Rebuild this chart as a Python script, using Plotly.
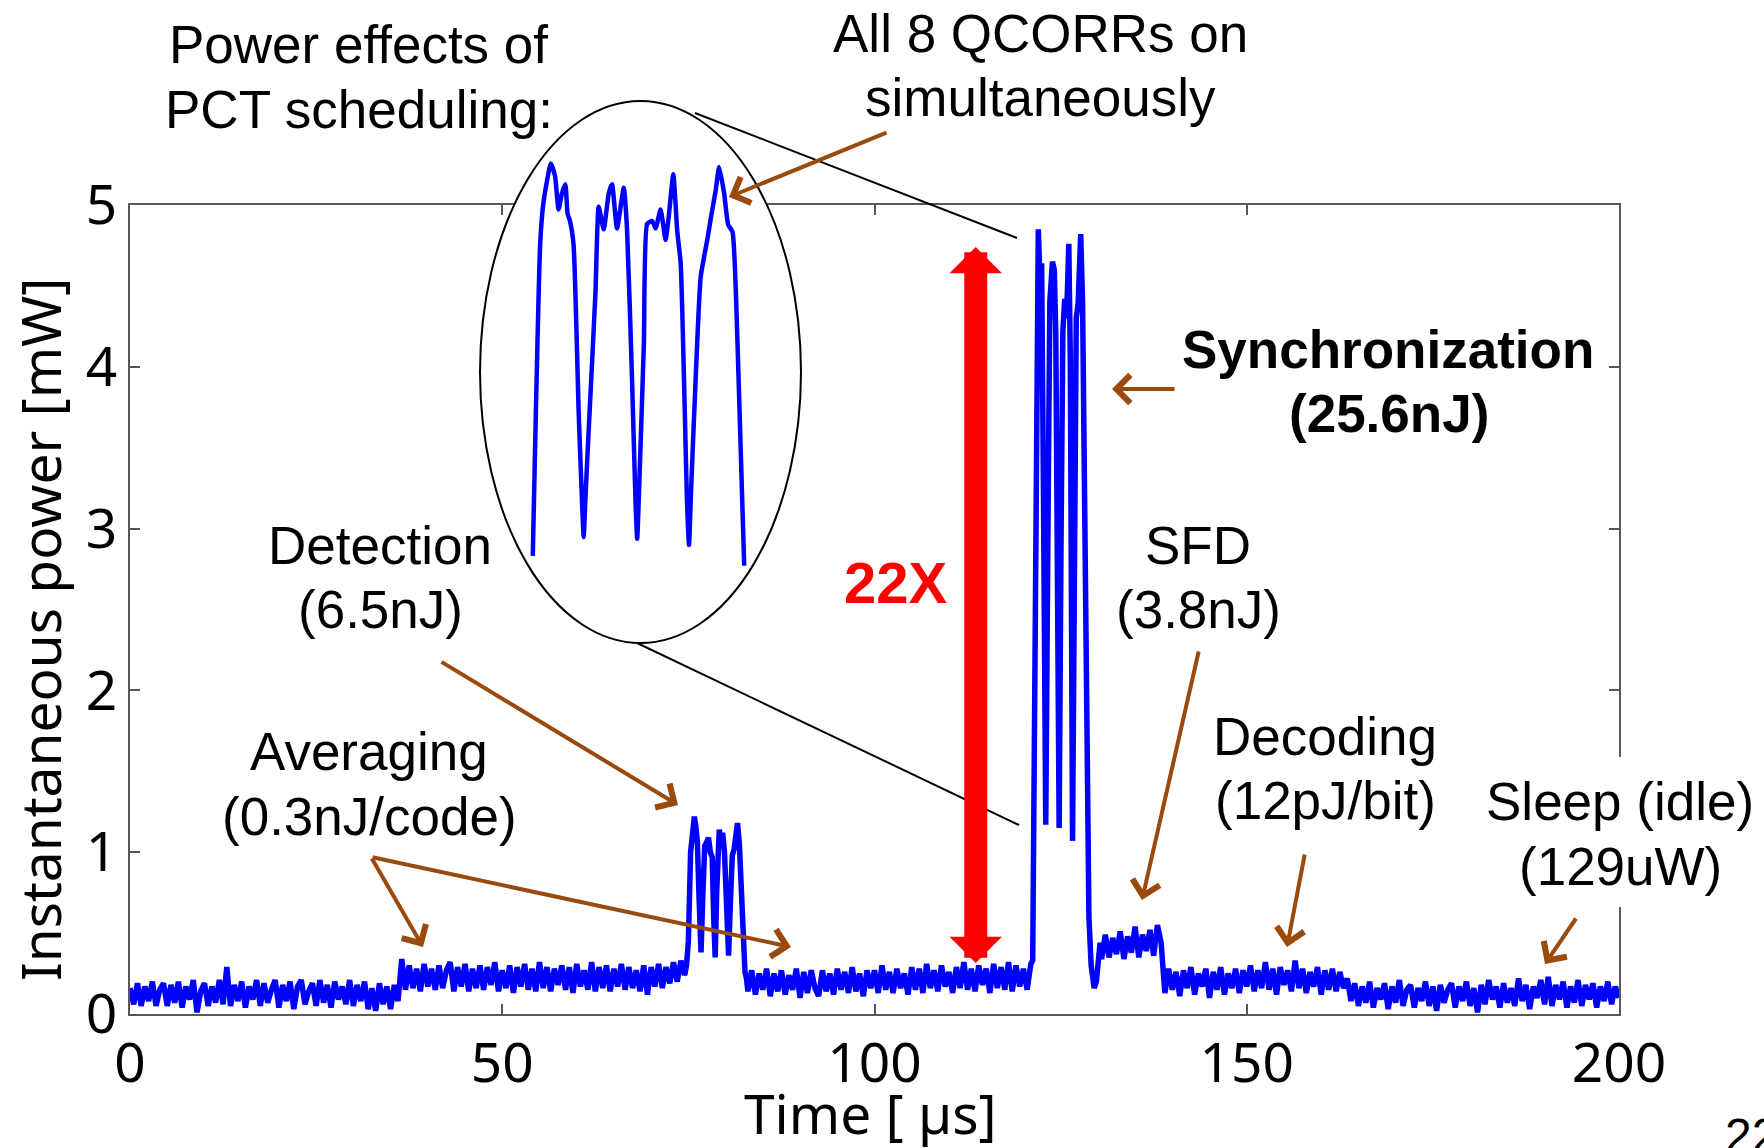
import numpy as np
import plotly.graph_objects as go

W, H = 1764, 1148

# ------------------------------------------------------------------ data
SAMPLE_STEP_US = 0.5

# idle / pre-averaging noise floor, 0 .. 36 us
idle_start_us = 0.0
idle_p = [0.16, 0.06, 0.19, 0.05, 0.17, 0.08, 0.20, 0.05, 0.15, 0.19,
          0.05, 0.18, 0.07, 0.20, 0.04, 0.17, 0.09, 0.21, 0.01, 0.14,
          0.19, 0.05, 0.17, 0.07, 0.21, 0.06, 0.29, 0.05, 0.18, 0.08,
          0.20, 0.04, 0.17, 0.09, 0.21, 0.05, 0.19, 0.07, 0.15, 0.21,
          0.04, 0.18, 0.08, 0.20, 0.03, 0.17, 0.21, 0.06, 0.14, 0.19,
          0.05, 0.21, 0.07, 0.18, 0.04, 0.20, 0.09, 0.17, 0.06, 0.21,
          0.05, 0.18, 0.08, 0.20, 0.03, 0.16, 0.02, 0.19, 0.06, 0.17,
          0.03, 0.18, 0.08]

# averaging, 36.5 .. 74.5 us
avg_start_us = 36.5
avg_p = [0.34, 0.15, 0.30, 0.16, 0.28, 0.14, 0.31, 0.17, 0.28, 0.15,
         0.30, 0.16, 0.27, 0.32, 0.14, 0.29, 0.17, 0.31, 0.14, 0.28,
         0.16, 0.30, 0.15, 0.29, 0.18, 0.32, 0.14, 0.27, 0.16, 0.30,
         0.13, 0.29, 0.17, 0.31, 0.15, 0.28, 0.14, 0.32, 0.16, 0.29,
         0.14, 0.28, 0.18, 0.30, 0.15, 0.29, 0.13, 0.31, 0.17, 0.27,
         0.15, 0.32, 0.14, 0.29, 0.16, 0.30, 0.14, 0.28, 0.17, 0.31,
         0.15, 0.29, 0.16, 0.27, 0.14, 0.30, 0.12, 0.29, 0.17, 0.31,
         0.16, 0.29, 0.19, 0.32, 0.20, 0.33, 0.24]

# detection burst
detect_t = [74.75, 75.0, 75.3, 75.55, 75.8, 76.0, 76.2, 76.45, 76.7, 76.95,
            77.2, 77.45, 77.7, 77.95, 78.2, 78.4, 78.6, 78.8, 79.0, 79.15,
            79.4, 79.6, 79.85, 80.1, 80.4, 80.65, 80.9, 81.15, 81.4, 81.6,
            81.85, 82.1, 82.35, 82.6, 82.8]
detect_p = [0.30, 0.45, 1.00, 1.15, 1.22, 1.16, 1.07, 0.70, 0.38, 0.75,
            1.04, 1.06, 1.09, 1.00, 0.97, 0.60, 0.35, 0.75, 1.10, 1.14,
            1.06, 1.12, 1.00, 0.65, 0.36, 0.70, 0.98, 1.02, 1.14, 1.18,
            1.05, 0.80, 0.40, 0.26, 0.22]

# averaging after detection, 83 .. 121 us
post_start_us = 83.0
post_p = [0.14, 0.27, 0.12, 0.25, 0.15, 0.28, 0.11, 0.25, 0.14, 0.27,
          0.12, 0.24, 0.15, 0.28, 0.10, 0.26, 0.13, 0.27, 0.16, 0.11,
          0.27, 0.14, 0.25, 0.12, 0.28, 0.15, 0.26, 0.13, 0.29, 0.14,
          0.25, 0.11, 0.27, 0.16, 0.27, 0.13, 0.30, 0.15, 0.26, 0.13,
          0.28, 0.16, 0.25, 0.12, 0.29, 0.15, 0.28, 0.13, 0.31, 0.16,
          0.27, 0.14, 0.30, 0.17, 0.26, 0.13, 0.29, 0.16, 0.32, 0.15,
          0.28, 0.14, 0.30, 0.18, 0.28, 0.13, 0.31, 0.16, 0.29, 0.15,
          0.32, 0.14, 0.30, 0.17, 0.28, 0.15, 0.31]

# synchronization burst (all 8 QCORRs on)
sync_t = [121.25, 121.5, 121.75, 122.0, 122.3, 122.45, 122.7, 123.0, 123.3, 123.55,
          123.9, 124.15, 124.35, 124.55, 124.8, 125.05, 125.3, 125.55, 125.8, 126.1,
          126.3, 126.6, 126.85, 127.1, 127.35, 127.7, 127.95, 128.2, 128.5, 128.8,
          129.1, 129.5, 129.8, 130.1, 130.3]
sync_p = [0.33, 2.00, 4.30, 4.85, 4.45, 4.64, 3.20, 1.17, 3.00, 4.40,
          4.65, 4.60, 4.20, 3.00, 1.15, 2.90, 4.22, 4.42, 4.30, 4.76,
          4.06, 1.07, 3.00, 4.30, 4.39, 4.82, 4.39, 3.40, 1.60, 0.60,
          0.30, 0.16, 0.20, 0.40, 0.44]

# SFD plateau, 130.5 .. 138.5 us
sfd_start_us = 130.5
sfd_p = [0.34, 0.49, 0.35, 0.47, 0.37, 0.51, 0.34, 0.48, 0.38, 0.54,
         0.35, 0.49, 0.39, 0.52, 0.36, 0.55, 0.44]

# decoding, 139 .. 163.5 us
decode_start_us = 139.0
decode_p = [0.13, 0.28, 0.15, 0.26, 0.11, 0.27, 0.16, 0.29, 0.12, 0.25,
            0.17, 0.28, 0.10, 0.26, 0.15, 0.29, 0.12, 0.25, 0.16, 0.28,
            0.13, 0.27, 0.17, 0.30, 0.14, 0.27, 0.16, 0.32, 0.15, 0.28,
            0.12, 0.29, 0.18, 0.27, 0.14, 0.33, 0.16, 0.28, 0.13, 0.26,
            0.17, 0.29, 0.12, 0.27, 0.15, 0.28, 0.14, 0.26, 0.16, 0.22]

# sleep (idle), 164 .. 200 us
sleep_start_us = 164.0
sleep_p = [0.08, 0.19, 0.05, 0.17, 0.07, 0.20, 0.04, 0.16, 0.09, 0.19,
           0.03, 0.17, 0.07, 0.21, 0.05, 0.15, 0.18, 0.04, 0.16, 0.08,
           0.20, 0.05, 0.17, 0.02, 0.18, 0.07, 0.15, 0.19, 0.04, 0.17,
           0.08, 0.20, 0.05, 0.16, 0.01, 0.18, 0.06, 0.21, 0.09, 0.17,
           0.04, 0.19, 0.07, 0.16, 0.05, 0.22, 0.08, 0.18, 0.03, 0.17,
           0.10, 0.21, 0.06, 0.23, 0.05, 0.18, 0.09, 0.20, 0.04, 0.17,
           0.07, 0.21, 0.05, 0.18, 0.09, 0.19, 0.04, 0.17, 0.08, 0.20,
           0.06, 0.17, 0.10]

# magnified view of the 4 correlator humps (inset in the ellipse)
inset_t = [0.08, 0.82, 1.15, 1.89, 2.30, 2.66, 3.00, 3.33, 3.56, 3.80,
           4.16, 4.67, 5.00, 5.17, 5.35, 5.67, 6.34, 6.67, 7.17, 7.68,
           8.00, 8.50, 9.18, 9.50, 10.00, 10.35, 10.52, 10.70, 11.19, 11.52,
           12.02, 12.36, 12.86, 13.36, 13.70, 14.13, 14.53, 14.87, 15.50, 15.70,
           15.90, 16.37, 16.87, 17.54, 17.88, 18.38, 18.71, 19.21, 19.62, 20.05,
           20.55, 21.22]
inset_p = [0.49, 3.96, 4.42, 4.85, 4.71, 4.34, 4.52, 4.62, 4.29, 4.21,
           3.94, 2.08, 1.10, 0.70, 1.15, 1.89, 3.40, 4.37, 4.12, 4.52,
           4.62, 4.13, 4.58, 4.13, 2.47, 1.10, 0.68, 1.20, 2.86, 4.18,
           4.21, 4.13, 4.34, 4.00, 4.29, 4.73, 4.09, 3.74, 1.10, 0.61,
           1.20, 2.47, 3.59, 4.01, 4.24, 4.56, 4.81, 4.52, 4.17, 4.09,
           2.86, 0.38]

x_ticks = [0, 50, 100, 150, 200]
y_ticks = [0, 1, 2, 3, 4, 5]


def seg_time(start, values):
    return list(start + SAMPLE_STEP_US * np.arange(len(values)))


time_us = (seg_time(idle_start_us, idle_p) + seg_time(avg_start_us, avg_p) + detect_t
           + seg_time(post_start_us, post_p) + sync_t + seg_time(sfd_start_us, sfd_p)
           + seg_time(decode_start_us, decode_p) + seg_time(sleep_start_us, sleep_p))
power_mw = idle_p + avg_p + detect_p + post_p + sync_p + sfd_p + decode_p + sleep_p

# ------------------------------------------------------------------ styling
BLUE = "#0000FF"
BROWN = "#9A4A0C"
RED = "#FF0000"
AXC = "#585858"
TXT_FONT = "Liberation Sans, Arial, sans-serif"
AX_FONT = "Noto Sans, Open Sans, sans-serif"

# plot-area box in pixels
PL, PR, PT, PB = 130, 1619, 205, 1014

# inset axes: pixel box and mapping
IN_L, IN_R, IN_T, IN_B = 460, 840, 60, 660
IN_X0, IN_XS = 532, 10.0     # px of t=0, px per unit
IN_Y0, IN_YS = 600, 90.0     # px of p=0, px per unit


def fx(px):
    return px / W


def fy(py):
    return 1 - py / H


def ix(px):
    return (px - IN_X0) / IN_XS


def iy(py):
    return (IN_Y0 - py) / IN_YS


fig = go.Figure()
fig.add_trace(go.Scatter(x=time_us, y=power_mw, mode="lines",
                         line=dict(color=BLUE, width=5.5), showlegend=False,
                         hoverinfo="skip"))
fig.add_trace(go.Scatter(x=inset_t, y=inset_p, mode="lines", xaxis="x2", yaxis="y2",
                         line=dict(color=BLUE, width=4.5, shape="spline", smoothing=0.5),
                         showlegend=False, hoverinfo="skip"))

annotations = []


def label(text, x, y, size=53, color="black", bold=False):
    if bold:
        text = "<b>" + text + "</b>"
    annotations.append(dict(text=text, x=fx(x), y=fy(y), xref="paper", yref="paper",
                            showarrow=False, xanchor="center", yanchor="middle",
                            font=dict(family=TXT_FONT, size=size, color=color)))


def arrow(head, tail):
    annotations.append(dict(text="", x=fx(head[0]), y=fy(head[1]), xref="paper", yref="paper",
                            ax=tail[0] - head[0], ay=tail[1] - head[1],
                            axref="pixel", ayref="pixel", showarrow=True,
                            arrowhead=4, arrowsize=1.35, arrowwidth=4,
                            arrowcolor=BROWN, standoff=0))


label("Power effects of", 358, 45)
label("PCT scheduling:", 359, 109)
label("All 8 QCORRs on", 1040, 34)
label("simultaneously", 1040, 98)
label("Synchronization", 1388, 349, bold=True)
label("(25.6nJ)", 1389, 413, bold=True)
label("22X", 896, 582, size=58, color=RED, bold=True)
label("SFD", 1198, 545)
label("(3.8nJ)", 1198, 609)
label("Detection", 380, 545)
label("(6.5nJ)", 380, 609)
label("Averaging", 369, 752)
label("(0.3nJ/code)", 369, 816)
label("Decoding", 1325, 736)
label("(12pJ/bit)", 1325, 800)
label("Sleep (idle)", 1620, 801)
label("(129uW)", 1620, 866)

arrow((729, 197), (888, 132))
arrow((1112, 389), (1176, 389))
arrow((1142, 900), (1199, 650))
arrow((678, 805), (440, 661))
arrow((423, 947), (371, 857))
arrow((791, 947), (371, 857))
arrow((1287, 947), (1305, 853))
arrow((1545, 964), (1577, 917))

# 22X double arrow (in data coordinates)
annotations.append(dict(text="", x=113.6, y=0.315, xref="x", yref="y",
                        ax=113.6, ay=4.75, axref="x", ayref="y", showarrow=True,
                        arrowside="end+start", arrowhead=1, startarrowhead=1,
                        arrowsize=0.38, startarrowsize=0.38, arrowwidth=23,
                        arrowcolor=RED, standoff=0, startstandoff=0))

# axis titles and page number
annotations.append(dict(text="Time [ \u00b5s]", x=fx(870), y=fy(1112), xref="paper", yref="paper",
                        showarrow=False, xanchor="center", yanchor="middle",
                        font=dict(family=AX_FONT, size=55, color="black")))
annotations.append(dict(text="Instantaneous power [mW]", x=fx(39), y=fy(630), xref="paper",
                        yref="paper", showarrow=False, textangle=-90, xanchor="center",
                        yanchor="middle", font=dict(family=AX_FONT, size=55, color="black")))
annotations.append(dict(text="22", x=fx(1723), y=fy(1107), xref="paper", yref="paper",
                        showarrow=False, xanchor="left", yanchor="top",
                        font=dict(family=TXT_FONT, size=48, color="black")))

shapes = [
    # ellipse around the magnified view (drawn under the inset trace)
    dict(type="circle", xref="x2", yref="y2", layer="below",
         x0=ix(480), x1=ix(801), y0=iy(643), y1=iy(101),
         line=dict(color="black", width=2), fillcolor="white"),
    # connector lines to the synchronization burst
    dict(type="line", xref="paper", yref="paper", layer="above",
         x0=fx(695), y0=fy(113), x1=fx(1017), y1=fy(238),
         line=dict(color="black", width=2)),
    dict(type="line", xref="paper", yref="paper", layer="above",
         x0=fx(637), y0=fy(643), x1=fx(1019), y1=fy(825),
         line=dict(color="black", width=2)),
    # white patch behind the "Sleep (idle)" label, hiding the right axis line
    dict(type="rect", xref="paper", yref="paper", layer="above",
         x0=fx(1606), x1=fx(1634), y0=fy(907), y1=fy(757),
         line=dict(width=0), fillcolor="white"),
]

axis_common = dict(showline=True, linecolor=AXC, linewidth=1.5, mirror="ticks",
                   ticks="inside", ticklen=10, tickwidth=1.5, tickcolor=AXC,
                   showgrid=False, zeroline=False,
                   tickfont=dict(family=AX_FONT, size=55, color="black"))

fig.update_layout(
    width=W, height=H, autosize=False,
    margin=dict(l=0, r=0, t=0, b=0, autoexpand=False),
    paper_bgcolor="white", plot_bgcolor="rgba(0,0,0,0)",
    showlegend=False,
    xaxis=dict(domain=[fx(PL), fx(PR)], range=[0, 200], tickvals=x_ticks,
               anchor="y", ticklabelstandoff=0, automargin=False, **axis_common),
    yaxis=dict(domain=[fy(PB), fy(PT)], range=[0, 5], tickvals=y_ticks,
               anchor="x", ticklabelstandoff=0, automargin=False, **axis_common),
    xaxis2=dict(domain=[fx(IN_L), fx(IN_R)], range=[ix(IN_L), ix(IN_R)],
                visible=False, anchor="y2", fixedrange=True),
    yaxis2=dict(domain=[fy(IN_B), fy(IN_T)], range=[iy(IN_B), iy(IN_T)],
                visible=False, anchor="x2", fixedrange=True),
    annotations=annotations,
    shapes=shapes,
)

fig.write_html("out.html")
